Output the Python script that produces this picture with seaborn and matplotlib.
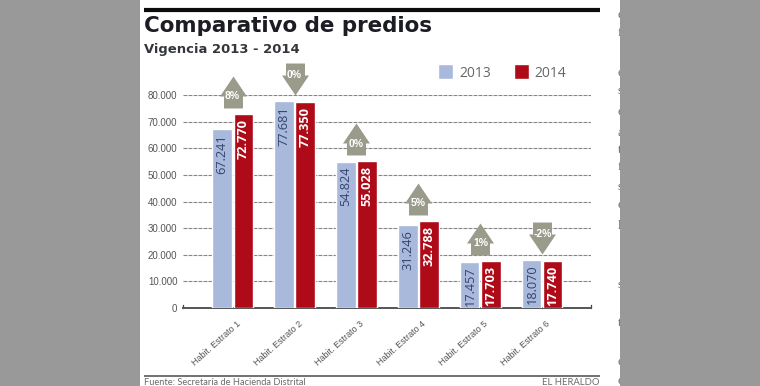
import numpy as np
import pandas as pd
import matplotlib
matplotlib.use("Agg")
import matplotlib.pyplot as plt
import matplotlib.transforms as mtrans
from matplotlib.lines import Line2D
from matplotlib.patches import Rectangle
from matplotlib.path import Path
import seaborn as sns

categories = ["Habit. Estrato 1", "Habit. Estrato 2", "Habit. Estrato 3",
              "Habit. Estrato 4", "Habit. Estrato 5", "Habit. Estrato 6"]
values_2013 = [67241, 77681, 54824, 31246, 17457, 18070]
values_2014 = [72770, 77350, 55028, 32788, 17703, 17740]
labels_2013 = ["67.241", "77.681", "54.824", "31.246", "17.457", "18.070"]
labels_2014 = ["72.770", "77.350", "55.028", "32.788", "17.703", "17.740"]
changes = ["8%", "0%", "0%", "5%", "1%", "-2%"]
y_ticks = [0, 10000, 20000, 30000, 40000, 50000, 60000, 70000, 80000]
y_tick_labels = ["0", "10.000", "20.000", "30.000", "40.000", "50.000", "60.000", "70.000", "80.000"]
edge_letters = ["e", "f", "e", "s", "e", "a", "t", "f", "s", "e", "l", "s", "t", "e", "e"]
edge_rows = [15, 33, 73, 91, 112, 133, 150, 167, 187, 205, 226, 285, 323, 362, 381]

W, H = 760, 386
NARROW = "Liberation Sans"
WIDE = "DejaVu Sans"

sns.set_theme(style="white")
plt.rcParams["font.family"] = ["Open Sans", "DejaVu Sans"]

fig = plt.figure(figsize=(W / 100, H / 100), dpi=100, facecolor="white")
ax = fig.add_axes([183 / W, 1 - 308 / H, (590.7 - 183) / W, (308 - 95) / H])
ax.patch.set_alpha(0)

df = pd.DataFrame({
    "cat": categories * 2,
    "year": ["2013"] * 6 + ["2014"] * 6,
    "value": values_2013 + values_2014,
})
sns.barplot(data=df, x="cat", y="value", hue="year", ax=ax, width=0.68, gap=0.09,
            palette=["#a9b9dc", "#ae0a18"], saturation=1, zorder=3)

ax.set_xlim(-0.8, 5.78)
ax.set_ylim(0, 80000)
ax.set_xlabel("")
ax.set_ylabel("")

# dashed guide lines behind the bars
ax.set_axisbelow(True)
ax.yaxis.grid(True, ls=(0, (3.5, 1)), color="#858585", lw=0.8)
ax.set_yticks(y_ticks)
ax.set_yticklabels(y_tick_labels, family=NARROW, fontsize=7, color="#555555")
ax.tick_params(axis="y", length=0, pad=4)

ax.set_xticks(range(6))
ax.set_xticklabels(categories, family=NARROW, fontsize=6.5, color="#555555",
                   rotation=42, ha="right", rotation_mode="anchor")
ax.tick_params(axis="x", length=0, pad=8)
shift = mtrans.ScaledTranslation(2.5 / 72, 0, fig.dpi_scale_trans)
for lab in ax.get_xticklabels():
    lab.set_transform(lab.get_transform() + shift)

sns.despine(ax=ax, top=True)
ax.spines["bottom"].set_color("#555555")
ax.spines["bottom"].set_linewidth(1.4)
for side in ["left", "right"]:
    ax.spines[side].set_visible(True)
    ax.spines[side].set_color("#444444")
    ax.spines[side].set_linewidth(0.9)
    ax.spines[side].set_bounds(0, 1300)

# values inside the bars
for bars, labs, col, wt in [(ax.containers[0], labels_2013, "#33446e", "normal"),
                            (ax.containers[1], labels_2014, "white", "bold")]:
    for b, t in zip(bars, labs):
        ax.annotate(t, (b.get_x() + b.get_width() / 2, b.get_height()), xytext=(0, -3.5),
                    textcoords="offset points", rotation=90, ha="center", va="top",
                    color=col, fontsize=9.2, fontweight=wt, family="Open Sans", zorder=5)

# house shaped arrows above every pair
up_pts = [(0, 16), (13.5, -4), (9.5, -4), (9.5, -16), (-9.5, -16), (-9.5, -4), (-13.5, -4), (0, 16)]
up_arrow = Path(up_pts)
down_arrow = Path([(x, -y) for x, y in up_pts])
for i, (a, b, c) in enumerate(zip(values_2013, values_2014, changes)):
    going_up = b >= a
    y = max(a, b) + 8300
    ax.plot([i], [y], marker=up_arrow if going_up else down_arrow, ms=23, color="#9b9b8b",
            mew=0, clip_on=False, zorder=4, ls="none")
    ax.annotate(c, (i, y), xytext=(0, -3 if going_up else 3), textcoords="offset points",
                ha="center", va="center", color="white", fontsize=7.5, fontweight="bold",
                family=NARROW, zorder=5, annotation_clip=False)

handles, leg_labels = ax.get_legend_handles_labels()
leg = ax.legend(handles, leg_labels, ncol=2, frameon=False, loc="center left",
                bbox_to_anchor=(438 / W, 1 - 72.5 / H), bbox_transform=fig.transFigure,
                borderpad=0, borderaxespad=0, handlelength=1.08, handleheight=1.28,
                handletextpad=0.43, columnspacing=1.65,
                prop={"family": "Open Sans", "size": 10})
for t in leg.get_texts():
    t.set_color("#666666")

# heading, rules and credits
fig.text(144 / W, 1 - 25.5 / H, "Comparativo de predios", family=WIDE, fontweight="bold",
         fontsize=15.4, color="#1c1c24", va="center", ha="left")
fig.text(144 / W, 1 - 49 / H, "Vigencia 2013 - 2014", family=WIDE, fontweight="bold",
         fontsize=9.45, color="#33363a", va="center", ha="left")
fig.add_artist(Line2D([144 / W, 599.5 / W], [1 - 10 / H] * 2, color="#0c0c0c", lw=3, solid_capstyle="butt"))
fig.add_artist(Line2D([144 / W, 599.5 / W], [1 - 376 / H] * 2, color="#666666", lw=1.3, solid_capstyle="butt"))
fig.text(144 / W, 1 - 382.5 / H, "Fuente: Secretaría de Hacienda Distrital", family="Lato",
         fontsize=6.7, color="#6a6a6a", va="center", ha="left")
fig.text(599 / W, 1 - 382.5 / H, "EL HERALDO", family="Lato",
         fontsize=6.8, color="#6a6a6a", va="center", ha="right")

# neighbouring column text, cut off by the grey margin
for ch, row in zip(edge_letters, edge_rows):
    fig.text(617.5 / W, 1 - row / H, ch, family="Liberation Serif", fontsize=9, color="#666666",
             va="center", ha="left", zorder=1)

# grey page margins
fig.add_artist(Rectangle((0, 0), 140 / W, 1, transform=fig.transFigure, color="#999999", lw=0, zorder=10))
fig.add_artist(Rectangle((620 / W, 0), 140 / W, 1, transform=fig.transFigure, color="#999999", lw=0, zorder=10))

fig.savefig("out.png", dpi=100)
